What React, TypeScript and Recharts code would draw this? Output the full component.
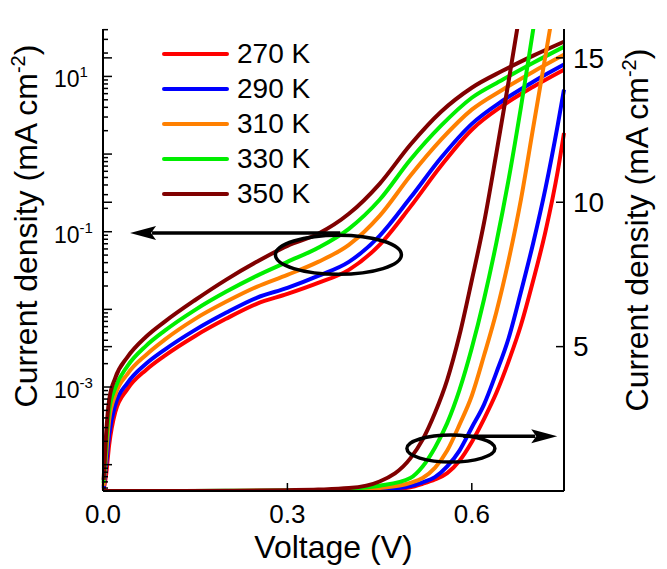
import React from 'react';
import {
  ComposedChart,
  Line,
  XAxis,
  YAxis,
  Legend,
  ReferenceLine,
  ReferenceDot,
} from 'recharts';

const FONT = '"Liberation Sans", Arial, Helvetica, sans-serif';

const temps = ['270 K', '290 K', '310 K', '330 K', '350 K'];
const colors = ['#ff0000', '#0000ff', '#ff8000', '#00ee00', '#800000'];

// semilog branch (left axis, mA cm^-2)
const vLog = [0.001, 0.005, 0.01, 0.02, 0.04, 0.07, 0.1, 0.15, 0.2, 0.25, 0.3, 0.35, 0.4, 0.45, 0.5, 0.55, 0.6, 0.65, 0.7, 0.75];
const log270 = [4.72e-5, 7.36e-5, 1.79e-4, 4.78e-4, 9.46e-4, 1.66e-3, 2.52e-3, 4.55e-3, 7.55e-3, 0.0118, 0.0158, 0.0219, 0.0323, 0.0678, 0.209, 0.707, 2.06, 4.19, 7.36, 12.2];
const log290 = [5.01e-5, 9.91e-5, 2.42e-4, 5.88e-4, 1.13e-3, 1.99e-3, 3.01e-3, 5.44e-3, 9.02e-3, 0.0141, 0.0189, 0.027, 0.0409, 0.0885, 0.273, 0.896, 2.45, 4.86, 8.55, 14.2];
const log310 = [5.32e-5, 1.33e-4, 3.77e-4, 7.91e-4, 1.48e-3, 2.59e-3, 4.05e-3, 7.55e-3, 0.0125, 0.0195, 0.0278, 0.0409, 0.0678, 0.16, 0.525, 1.53, 3.73, 6.74, 11.5, 19.0];
const log330 = [5.81e-5, 1.79e-4, 5.07e-4, 9.73e-4, 1.87e-3, 3.39e-3, 5.28e-3, 9.86e-3, 0.0168, 0.027, 0.0409, 0.0621, 0.109, 0.258, 0.845, 2.32, 5.31, 9.06, 15.0, 24.1];
const log350 = [6.35e-5, 2.42e-4, 6.8e-4, 1.31e-3, 2.44e-3, 4.43e-3, 6.9e-3, 0.0132, 0.024, 0.0409, 0.0658, 0.094, 0.17, 0.414, 1.32, 3.51, 7.15, 11.8, 18.5, 28.0];

// linear branch (right axis, mA cm^-2)
const vLin = [0, 0.1, 0.2, 0.3, 0.35, 0.4, 0.45, 0.5, 0.52, 0.54, 0.56, 0.58, 0.6, 0.62, 0.64, 0.66, 0.68, 0.7, 0.72, 0.74, 0.75];
const lin270 = [0, 0, 0, 0, 0.005, 0.01, 0.03, 0.13, 0.25, 0.4, 0.62, 1.05, 1.7, 2.5, 3.4, 4.5, 5.75, 7.3, 9.0, 11.1, 12.4];
const lin290 = [0, 0, 0, 0.005, 0.01, 0.02, 0.05, 0.17, 0.3, 0.48, 0.85, 1.4, 2.2, 3.0, 4.1, 5.3, 6.9, 8.6, 10.5, 12.7, 13.9];
const lin310 = [0, 0, 0, 0.01, 0.02, 0.04, 0.1, 0.28, 0.45, 0.8, 1.4, 2.3, 3.3, 4.7, 6.2, 8.0, 10.1, 12.6, 15.1, 17.6, null];
const lin330 = [0, 0, 0.005, 0.02, 0.03, 0.07, 0.18, 0.45, 0.85, 1.5, 2.35, 3.5, 4.95, 6.65, 8.6, 10.8, 13.3, 16.0, 18.7, null, null];
const lin350 = [0, 0, 0.01, 0.03, 0.05, 0.1, 0.33, 1.13, 1.78, 2.7, 3.85, 5.4, 7.3, 9.3, 11.7, 14.2, 16.8, null, null, null, null];

const logSeries = [log270, log290, log310, log330, log350];
const linSeries = [lin270, lin290, lin310, lin330, lin350];

const vTicks = [0, 0.3, 0.6];
const linTicks = [5, 10, 15];
const logDecades = [-5, -4, -3, -2, -1, 0, 1];
const logLabelled = [1, -1, -3];

const LOG_DOMAIN = [4.58e-5, 40.8];
const LIN_DOMAIN = [0, 16];
const V_DOMAIN = [0, 0.75];

const W = 667;
const H = 569;
const AXIS_W = 103;
const PLOT_W = W - 2 * AXIS_W;

const logTicks = logDecades
  .flatMap((d) => [1, 2, 3, 4, 5, 6, 7, 8, 9].map((m) => m * Math.pow(10, d)))
  .filter((t) => t >= LOG_DOMAIN[0] && t <= LOG_DOMAIN[1]);

const logRows = vLog.map((v, i) => {
  const row: any = { v };
  logSeries.forEach((s, k) => (row['s' + k] = s[i]));
  return row;
});
const linRows = vLin.map((v, i) => {
  const row: any = { v };
  linSeries.forEach((s, k) => (row['s' + k] = s[i]));
  return row;
});

const LogTick = (props: any) => {
  const { x, y, payload } = props;
  const v = payload.value;
  const exp = Math.round(Math.log10(v));
  const major = Math.abs(v / Math.pow(10, exp) - 1) < 1e-6;
  return (
    <g>
      <line x1={x} x2={x + (major ? 9 : 5)} y1={y} y2={y} stroke="#000" strokeWidth={1.5} />
      {major && logLabelled.includes(exp) && (
        <text x={x - 49} y={y + 11} fontSize={23} fontFamily={FONT} fill="#000">
          10<tspan dy={-10} fontSize={15}>{String(exp)}</tspan>
        </text>
      )}
    </g>
  );
};

const LinTick = (props: any) => {
  const { x, y, payload } = props;
  return (
    <g>
      <line x1={x} x2={x - 8} y1={y} y2={y} stroke="#000" strokeWidth={1.5} />
      <line x1={x - PLOT_W} x2={x - PLOT_W + 9} y1={y} y2={y} stroke="#000" strokeWidth={1.5} />
      <text x={x + 9} y={y} dy="0.35em" fontSize={28} fontFamily={FONT} fill="#000">
        {payload.value}
      </text>
    </g>
  );
};

const VTick = (props: any) => {
  const { x, y, payload } = props;
  return (
    <g>
      <line x1={x} x2={x} y1={y} y2={y - 8} stroke="#000" strokeWidth={1.5} />
      <text x={x} y={y + 32} textAnchor="middle" fontSize={26} fontFamily={FONT} fill="#000">
        {payload.value.toFixed(1)}
      </text>
    </g>
  );
};

const TopTick = (props: any) => {
  const { x, y } = props;
  return <line x1={x} x2={x} y1={y} y2={y + 8} stroke="#000" strokeWidth={1.5} />;
};

const DensityTitle = ({ x, y }: { x: number; y: number }) => (
  <text
    x={x}
    y={y}
    transform={`rotate(-90 ${x} ${y})`}
    textAnchor="middle"
    fontSize={32}
    fontFamily={FONT}
    fill="#000"
  >
    Current density (mA cm<tspan dy={-12} fontSize={20}>-2</tspan>
    <tspan dy={12}>)</tspan>
  </text>
);

const Arrow = (props: any) => {
  const { x1, y1, x2, y2 } = props;
  const dir = Math.sign(x2 - x1);
  const head = 26;
  const bx = x2 - dir * head;
  return (
    <g>
      <line x1={x1} y1={y1} x2={bx + dir * 4} y2={y2} stroke="#000" strokeWidth={3.5} />
      <polygon
        points={`${x2},${y2} ${bx},${y2 - 7} ${bx + dir * 5},${y2} ${bx},${y2 + 7}`}
        fill="#000"
      />
    </g>
  );
};

const ring = (rx: number, ry: number) => (p: any) => (
  <ellipse cx={p.cx} cy={p.cy} rx={rx} ry={ry} fill="none" stroke="#000" strokeWidth={3.5} />
);

const LegendBox = () => (
  <div style={{ fontFamily: FONT, fontSize: 28, color: '#000' }}>
    {temps.map((t, i) => (
      <div key={t} style={{ display: 'flex', alignItems: 'center', height: 35 }}>
        <span
          style={{ width: 67, height: 4, background: colors[i], borderRadius: 2, marginRight: 8 }}
        />
        <span>{t}</span>
      </div>
    ))}
  </div>
);

export default function App() {
  return (
    <div style={{ position: 'absolute', left: 0, top: 0, width: W, height: H, background: '#fff' }}>
      <ComposedChart width={W} height={H} margin={{ top: 29, right: 0, bottom: 0, left: 0 }}>
        <XAxis
          type="number"
          dataKey="v"
          domain={V_DOMAIN}
          ticks={vTicks}
          interval={0}
          height={H - 29 - 462}
          tickSize={0}
          tickMargin={0}
          tick={<VTick />}
          tickLine={false}
          axisLine={{ stroke: '#000', strokeWidth: 2 }}
          label={{ content: () => <text x={333.5} y={558} textAnchor="middle" fontSize={32} fontFamily={FONT} fill="#000">Voltage (V)</text> }}
        />
        <XAxis
          xAxisId="top"
          orientation="top"
          type="number"
          dataKey="v"
          domain={V_DOMAIN}
          ticks={vTicks}
          interval={0}
          height={0}
          tickSize={0}
          tickMargin={0}
          tick={<TopTick />}
          tickLine={false}
          axisLine={{ stroke: '#000', strokeWidth: 2 }}
        />
        <YAxis
          yAxisId="log"
          type="number"
          scale="log"
          domain={LOG_DOMAIN}
          allowDataOverflow
          ticks={logTicks}
          interval={0}
          width={AXIS_W}
          tickSize={0}
          tickMargin={0}
          tick={<LogTick />}
          tickLine={false}
          axisLine={{ stroke: '#000', strokeWidth: 2 }}
          label={{ content: () => <DensityTitle x={37} y={226} /> }}
        />
        <YAxis
          yAxisId="lin"
          orientation="right"
          type="number"
          domain={LIN_DOMAIN}
          allowDataOverflow
          ticks={linTicks}
          interval={0}
          width={AXIS_W}
          tickSize={0}
          tickMargin={0}
          tick={<LinTick />}
          tickLine={false}
          axisLine={{ stroke: '#000', strokeWidth: 2 }}
          label={{ content: () => <DensityTitle x={648} y={230} /> }}
        />
        <Legend
          layout="vertical"
          align="center"
          verticalAlign="middle"
          wrapperStyle={{ left: 162, top: 36, width: 200 }}
          content={<LegendBox />}
        />
        {temps.map((t, i) => (
          <Line
            key={'log' + t}
            data={logRows}
            dataKey={'s' + i}
            yAxisId="log"
            type="monotone"
            stroke={colors[i]}
            strokeWidth={4}
            dot={false}
            isAnimationActive={false}
          />
        ))}
        {temps.map((t, i) => (
          <Line
            key={'lin' + t}
            data={linRows}
            dataKey={'s' + i}
            yAxisId="lin"
            type="monotone"
            stroke={colors[i]}
            strokeWidth={4}
            dot={false}
            isAnimationActive={false}
          />
        ))}
        <ReferenceLine
          yAxisId="log"
          segment={[{ x: 0.386, y: 0.096 }, { x: 0.044, y: 0.096 }]}
          shape={Arrow}
        />
        <ReferenceLine
          yAxisId="lin"
          segment={[{ x: 0.586, y: 1.9 }, { x: 0.739, y: 1.9 }]}
          shape={Arrow}
        />
        <ReferenceDot yAxisId="log" x={0.383} y={0.0504} r={1} shape={ring(63, 19.5)} />
        <ReferenceDot yAxisId="lin" x={0.566} y={1.47} r={1} shape={ring(44, 13.5)} />
      </ComposedChart>
    </div>
  );
}
